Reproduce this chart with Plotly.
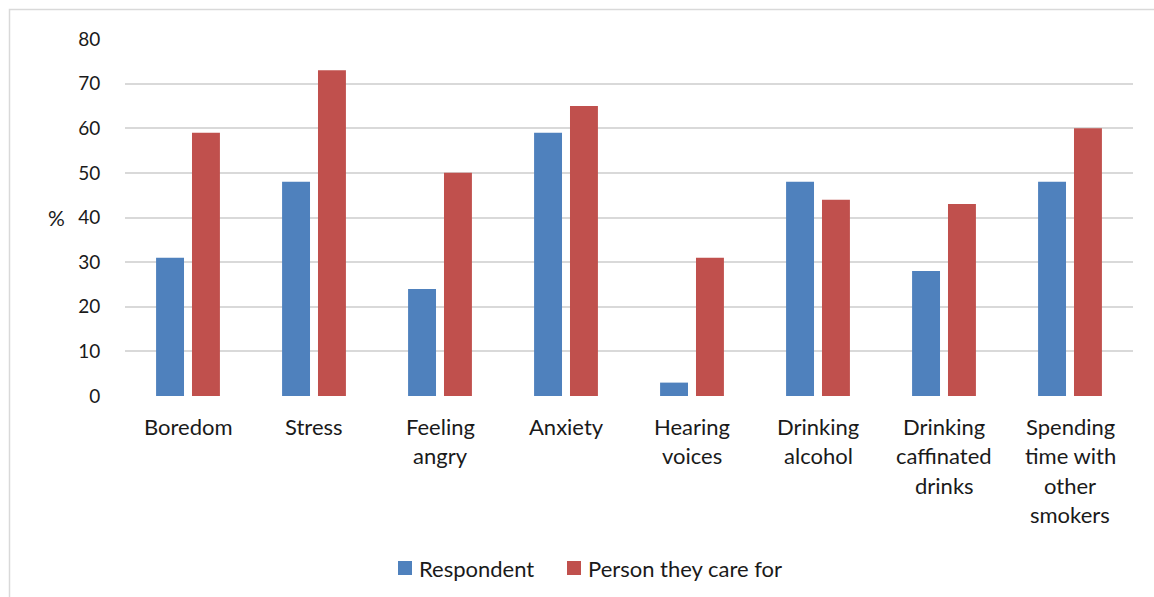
import plotly.graph_objects as go

categories = [
    "Boredom", "Stress", "Feeling<br>angry", "Anxiety", "Hearing<br>voices",
    "Drinking<br>alcohol", "Drinking<br>caffinated<br>drinks", "Spending<br>time with<br>other<br>smokers",
]
respondent = [31, 48, 24, 59, 3, 48, 28, 48]
person_cared_for = [59, 73, 50, 65, 31, 44, 43, 60]
y_ticks = [0, 10, 20, 30, 40, 50, 60, 70, 80]

FONT = "Lato"
TEXT = "#1a1a1a"
BLUE = "#4F81BD"
RED = "#C0504D"

# plot area in pixels: x 125..1133, y 39..396
PX_L, PX_W, PX_B, PX_H = 125, 1008, 396, 357


def px(xp):
    return (xp - PX_L) / PX_W


def py(yp):
    return (PX_B - yp) / PX_H


fig = go.Figure()
fig.add_trace(go.Bar(x=list(range(len(categories))), y=respondent, name="Respondent",
                     marker=dict(color=BLUE, line=dict(width=0)), showlegend=False))
fig.add_trace(go.Bar(x=list(range(len(categories))), y=person_cared_for, name="Person they care for",
                     marker=dict(color=RED, line=dict(width=0)), showlegend=False))

# category labels, one annotation per line for Excel-like line spacing
for i, lab in enumerate(categories):
    for j, line in enumerate(lab.split("<br>")):
        fig.add_annotation(x=i, y=0, xref="x", yref="y", text=line, showarrow=False,
                           xanchor="center", yanchor="middle", yshift=-30 - 29.5 * j,
                           font=dict(family=FONT, size=22, color=TEXT))

fig.add_annotation(x=px(56.5), y=0.5, xref="paper", yref="paper", text="%",
                   showarrow=False, xanchor="center", yanchor="middle",
                   font=dict(family=FONT, size=21, color=TEXT))

# legend drawn below the axis: colour key squares and series names
legend_items = [("Respondent", BLUE, 398), ("Person they care for", RED, 567)]
for name, color, x0 in legend_items:
    fig.add_shape(type="rect", xref="paper", yref="paper",
                  x0=px(x0), x1=px(x0 + 14), y0=py(575), y1=py(561),
                  line=dict(width=0), fillcolor=color)
    fig.add_annotation(x=px(x0 + 19), y=py(568), xref="paper", yref="paper", text=name,
                       showarrow=False, xanchor="left", yanchor="middle",
                       font=dict(family=FONT, size=22, color=TEXT))

# outer chart frame
fig.add_shape(type="rect", xref="paper", yref="paper",
              x0=px(9.5), x1=1.05, y0=-0.7, y1=py(9.5),
              line=dict(color="#D9D9D9", width=1.5), fillcolor="rgba(0,0,0,0)", layer="below")

fig.update_layout(
    width=1154, height=597,
    margin=dict(l=125, r=21, t=39, b=201),
    paper_bgcolor="white", plot_bgcolor="white",
    barmode="group", bargap=0.43, bargroupgap=0.222,
    showlegend=False,
    xaxis=dict(range=[-0.5, len(categories) - 0.5], showticklabels=False, showgrid=False,
               zeroline=False, showline=False, ticks=""),
    yaxis=dict(range=[0, 80], tickvals=y_ticks, showgrid=True, gridcolor="#D9D9D9", gridwidth=1.5,
               zeroline=False, showline=False, ticks="outside", ticklen=20, tickcolor="rgba(0,0,0,0)",
               tickfont=dict(family=FONT, size=19, color=TEXT)),
)

fig.write_html("out.html")
